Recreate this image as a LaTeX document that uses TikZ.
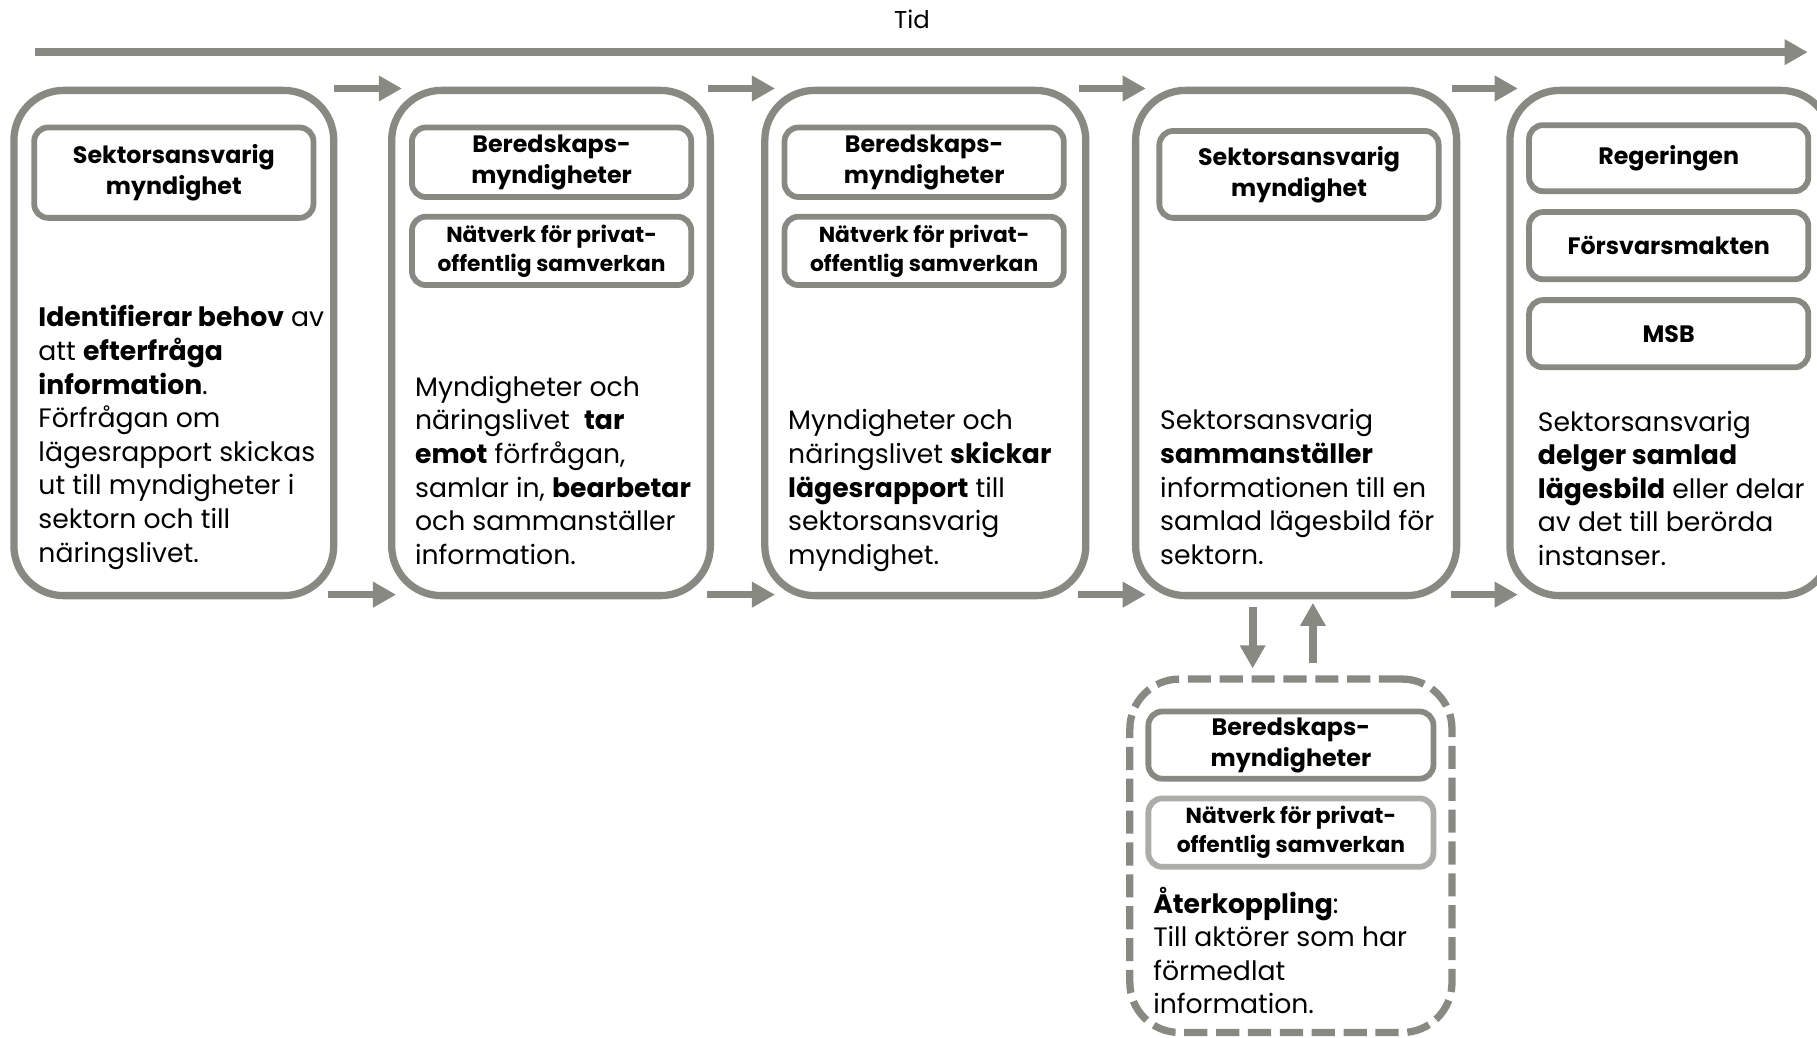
\documentclass[tikz,border=0pt]{standalone}
\usepackage{fontspec}
\setmainfont{Poppins}
\usetikzlibrary{arrows.meta}
\definecolor{framegray}{RGB}{137,137,131}
\definecolor{softgray}{RGB}{172,172,168}

\tikzset{
	phase/.style={draw=framegray, line width=6.3pt, rounded corners=43pt},
	role/.style={draw=framegray, line width=5pt, rounded corners=12pt, minimum width=241pt, inner sep=0pt, align=center, font=\bfseries\fontsize{20.5}{27}\selectfont},
	net/.style={role, font=\bfseries\fontsize{18.8}{25}\selectfont},
	desc/.style={anchor=base west, inner sep=0pt, align=left, font=\fontsize{23}{29}\selectfont},
	flow/.style={draw=framegray, line width=6.6pt, -{Triangle[length=20pt,width=21pt]}}
}

\begin{document}
\begin{tikzpicture}[x=1pt, y=-1pt]
	\useasboundingbox (0,0) rectangle (1568,895);
	\node [font=\fontsize{21}{25}\selectfont] (tid) at (787,17) {Tid};
	\coordinate (t0) at (30,45);
	\coordinate (t1) at (1560,45);
	\draw [flow] (t0) -- (t1);

	\node [phase, minimum width=276pt, minimum height=436pt] (b1) at (150,296) {};
	\node [phase, minimum width=275pt, minimum height=436pt] (b2) at (475.5,296) {};
	\node [phase, minimum width=277pt, minimum height=436pt] (b3) at (798.5,296) {};
	\node [phase, minimum width=277pt, minimum height=436pt] (b4) at (1118.5,296) {};
	\node [phase, minimum width=277pt, minimum height=436pt] (b5) at (1441.5,296) {};
	\node [phase, dash pattern=on 20pt off 7.5pt, minimum width=278pt, minimum height=305pt] (fb) at (1114,738.5) {};

	\node [role, minimum height=78pt] (s1) at (150,149) {Sektorsansvarig\\myndighet};
	\node [role, minimum height=60pt] (r2) at (476,140) {Beredskaps-\\myndigheter};
	\node [net, minimum height=59pt] (n2) at (476,216.5) {Nätverk för privat-\\offentlig samverkan};
	\node [role, minimum height=60pt] (r3) at (797.5,140) {Beredskaps-\\myndigheter};
	\node [net, minimum height=59pt] (n3) at (797.5,216.5) {Nätverk för privat-\\offentlig samverkan};
	\node [role, minimum height=75pt] (s4) at (1121,150.5) {Sektorsansvarig\\myndighet};
	\node [role, minimum height=57pt] (reg) at (1440,136.5) {Regeringen};
	\node [role, minimum height=58pt] (fm) at (1440,212) {Försvarsmakten};
	\node [role, minimum height=58pt] (msb) at (1440,288) {MSB};
	\node [role, minimum width=246pt, minimum height=58pt] (rf) at (1114,643) {Beredskaps-\\myndigheter};
	\node [net, draw=softgray, minimum width=246pt, minimum height=59pt] (nf) at (1114,718.5) {Nätverk för privat-\\offentlig samverkan};

	\node [desc] (d1) at (33,485) {\textbf{Identifierar behov} av\\att \textbf{efterfråga}\\\textbf{information}.\\Förfrågan om\\lägesrapport skickas\\ut till myndigheter i\\sektorn och till\\näringslivet.};
	\node [desc] (d2) at (358,487) {Myndigheter och\\näringslivet\ \ \textbf{tar}\\\textbf{emot} förfrågan,\\samlar in, \textbf{bearbetar}\\och sammanställer\\information.};
	\node [desc] (d3) at (680,487) {Myndigheter och\\näringslivet \textbf{skickar}\\\textbf{lägesrapport} till\\sektorsansvarig\\myndighet.};
	\node [desc] (d4) at (1001,487) {Sektorsansvarig\\\textbf{sammanställer}\\informationen till en\\samlad lägesbild för\\sektorn.};
	\node [desc] (d5) at (1327,488) {Sektorsansvarig\\\textbf{delger samlad}\\\textbf{lägesbild} eller delar\\av det till berörda\\instanser.};
	\node [desc] (df) at (995,875) {\textbf{Återkoppling}:\\Till aktörer som har\\förmedlat\\information.};

	\draw [flow, shorten <=-3pt, shorten >=-12pt] ([shift={(0,1.5)}]b1.north east) -- ([shift={(0,1.5)}]b2.north west);
	\draw [flow, shorten <=-5pt, shorten >=-12pt] ([shift={(0,1.5)}]b2.north east) -- ([shift={(0,1.5)}]b3.north west);
	\draw [flow, shorten <=-9pt, shorten >=-12pt] ([shift={(0,1.5)}]b3.north east) -- ([shift={(0,1.5)}]b4.north west);
	\draw [flow, shorten <=-7pt, shorten >=-10pt] ([shift={(0,1.5)}]b4.north east) -- ([shift={(0,1.5)}]b5.north west);
	\draw [flow, shorten <=-8pt, shorten >=-7pt] ([shift={(0,-4)}]b1.south east) -- ([shift={(0,-4)}]b2.south west);
	\draw [flow, shorten <=-6pt, shorten >=-12pt] ([shift={(0,-4)}]b2.south east) -- ([shift={(0,-4)}]b3.south west);
	\draw [flow, shorten <=-10pt, shorten >=-12pt] ([shift={(0,-4)}]b3.south east) -- ([shift={(0,-4)}]b4.south west);
	\draw [flow, shorten <=-8pt, shorten >=-10pt] ([shift={(0,-4)}]b4.south east) -- ([shift={(0,-4)}]b5.south west);

	\coordinate (dn) at (1081,0);
	\coordinate (up) at (1133,0);
	\draw [flow, shorten <=7pt, shorten >=6pt] (b4.south -| dn) -- (fb.north -| dn);
	\draw [flow, shorten <=11pt, shorten >=3pt] (fb.north -| up) -- (b4.south -| up);
\end{tikzpicture}
\end{document}
